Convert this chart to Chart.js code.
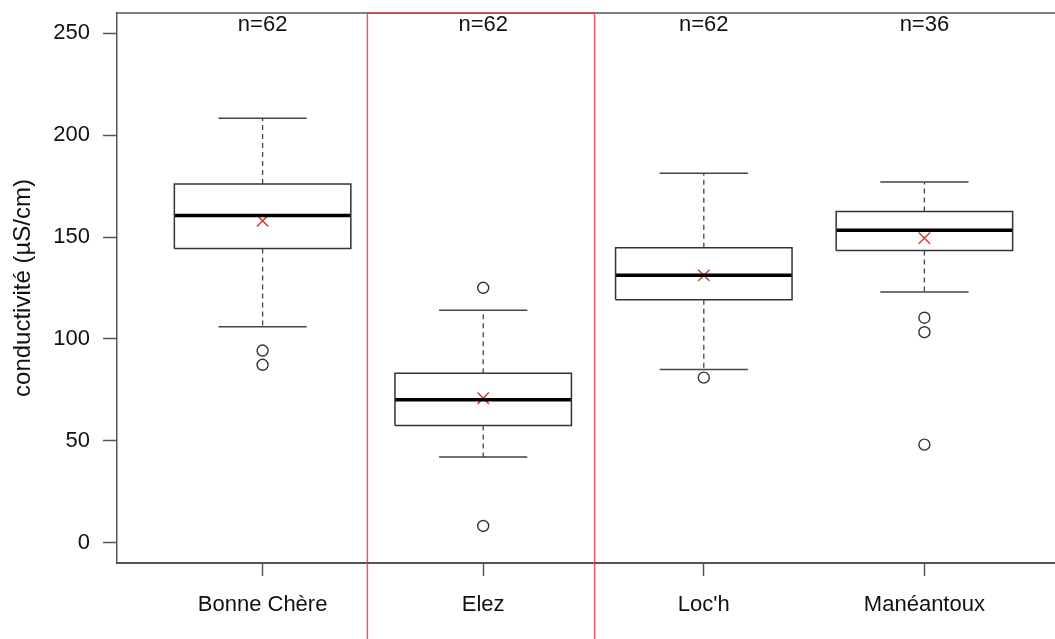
<!DOCTYPE html>
<html>
<head>
<meta charset="utf-8">
<script src="https://cdn.jsdelivr.net/npm/chart.js@4.4.1/dist/chart.umd.min.js"></script>
<style>
  body { margin: 0; background: #fff; }
  canvas { display: block; }
</style>
</head>
<body>
<canvas id="boxChart" width="1055" height="639"></canvas>
<script>
// conductivity boxplots per river
const categories = ['Bonne Chère', 'Elez', "Loc'h", 'Manéantoux'];
const counts = [62, 62, 62, 36];
const whiskerLow = [106, 42, 85, 123];
const q1 = [144.4, 57.5, 119.2, 143.4];
const medians = [160.6, 70.1, 131.3, 153.4];
const q3 = [176, 83.2, 144.8, 162.6];
const whiskerHigh = [208.3, 114.1, 181.3, 177];
const means = [158, 70.9, 131.2, 149.5];
const outliers = [[94.3, 87.3], [125.1, 8.2], [81], [110.4, 103.3, 48.1]];
const yTicks = [0, 50, 100, 150, 200, 250];
const highlighted = 'Elez';

const FONT = "'Liberation Sans', Arial, Helvetica, sans-serif";
const boxHalf = 0.4, capHalf = 0.2;

// build segment lists (null point = gap between segments)
const gap = i => ({ x: i + 1, y: null });
let boxPts = [], medPts = [], whiskPts = [], capPts = [], outPts = [], meanPts = [];
categories.forEach((c, i) => {
  const x = i + 1;
  boxPts.push({ x: x - boxHalf, y: q1[i] }, { x: x + boxHalf, y: q1[i] }, { x: x + boxHalf, y: q3[i] },
              { x: x - boxHalf, y: q3[i] }, { x: x - boxHalf, y: q1[i] }, gap(i));
  medPts.push({ x: x - boxHalf, y: medians[i] }, { x: x + boxHalf, y: medians[i] }, gap(i));
  whiskPts.push({ x, y: q3[i] }, { x, y: whiskerHigh[i] }, gap(i), { x, y: q1[i] }, { x, y: whiskerLow[i] }, gap(i));
  capPts.push({ x: x - capHalf, y: whiskerHigh[i] }, { x: x + capHalf, y: whiskerHigh[i] }, gap(i),
              { x: x - capHalf, y: whiskerLow[i] }, { x: x + capHalf, y: whiskerLow[i] }, gap(i));
  outliers[i].forEach(v => outPts.push({ x, y: v }));
  meanPts.push({ x, y: means[i] });
});

const seg = (data, color, width, dash) => ({
  type: 'line', data, borderColor: color, borderWidth: width, borderDash: dash || [],
  pointRadius: 0, fill: false, spanGaps: false, tension: 0
});

// frame top line, n= labels, red highlight box
const extras = {
  id: 'extras',
  afterDatasetsDraw(chart) {
    const { ctx, chartArea, scales: { x } } = chart;
    ctx.save();
    ctx.strokeStyle = '#555';
    ctx.lineWidth = 1.5;
    ctx.beginPath();
    ctx.moveTo(chartArea.left, chartArea.top);
    ctx.lineTo(chartArea.right, chartArea.top);
    ctx.stroke();

    ctx.fillStyle = '#111';
    ctx.font = '22px ' + FONT;
    ctx.textAlign = 'center';
    ctx.textBaseline = 'middle';
    counts.forEach((n, i) => ctx.fillText('n=' + n, x.getPixelForValue(i + 1), chartArea.top + 12));

    const hi = categories.indexOf(highlighted) + 1;
    const l = x.getPixelForValue(hi - 0.525), r = x.getPixelForValue(hi + 0.505);
    ctx.strokeStyle = 'rgba(235,60,60,0.85)';
    ctx.lineWidth = 1.5;
    ctx.strokeRect(l, chartArea.top, r - l, chart.height + 10);
    ctx.restore();
  }
};

// drop the label overflow padding so the plot frame sits where we want it
const noPad = s => { s.paddingTop = 0; s.paddingBottom = 0; s.paddingLeft = 0; s.paddingRight = 0; };

new Chart(document.getElementById('boxChart'), {
  type: 'line',
  data: {
    datasets: [
      seg(whiskPts, '#444', 1.3, [5, 4]),
      seg(capPts, '#444', 1.5),
      seg(boxPts, '#333', 1.5),
      seg(medPts, '#000', 3.5),
      { type: 'scatter', data: outPts, pointStyle: 'circle', pointRadius: 5.5, borderColor: '#333', borderWidth: 1.4, backgroundColor: 'rgba(0,0,0,0)' },
      { type: 'scatter', data: meanPts, pointStyle: 'crossRot', pointRadius: 8, borderColor: '#d43c3c', borderWidth: 1.5 }
    ]
  },
  options: {
    responsive: false,
    animation: false,
    layout: { autoPadding: false, padding: { top: 13, left: 0, right: 0, bottom: 0 } },
    plugins: { legend: { display: false }, tooltip: { enabled: false } },
    scales: {
      x: {
        type: 'linear', min: 0.34, max: 4.592,
        afterBuildTicks: s => { s.ticks = categories.map((c, i) => ({ value: i + 1 })); },
        afterFit: s => { s.height = 76; noPad(s); },
        ticks: { autoSkip: false, maxRotation: 0, padding: 16, color: '#111', font: { family: FONT, size: 22 },
                 callback: v => categories[v - 1] },
        grid: { drawOnChartArea: false, tickLength: 13, tickColor: '#555', tickWidth: 1.5 },
        border: { color: '#555', width: 2 }
      },
      y: {
        min: -10, max: 260,
        afterBuildTicks: s => { s.ticks = yTicks.map(v => ({ value: v })); },
        afterFit: s => { s.width = 117; noPad(s); },
        ticks: { padding: 13, color: '#111', font: { family: FONT, size: 22 } },
        grid: { drawOnChartArea: false, tickLength: 14, tickColor: '#555', tickWidth: 1.5 },
        border: { color: '#555', width: 1.5 },
        title: { display: true, text: 'conductivité (µS/cm)', color: '#111', font: { family: FONT, size: 24 }, padding: { top: 9, bottom: 0 } }
      }
    }
  },
  plugins: [extras]
});
</script>
</body>
</html>
